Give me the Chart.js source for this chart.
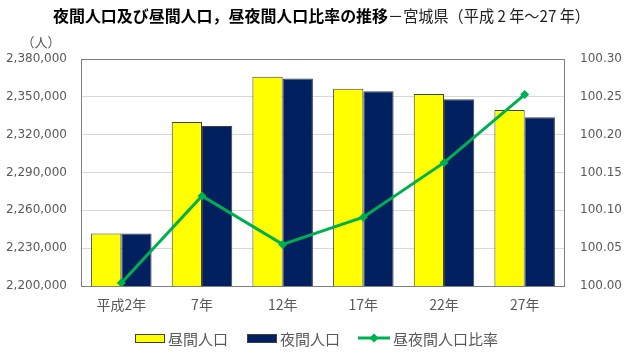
<!DOCTYPE html>
<html><head><meta charset="utf-8">
<script src="https://cdn.jsdelivr.net/npm/chart.js@4/dist/chart.umd.min.js"></script>
<style>html,body{margin:0;padding:0;background:#fff;}#wrap{width:628px;height:361px;position:relative;}</style>
</head><body><div id="wrap"><canvas id="c" width="628" height="361"></canvas></div>
<script>
const categories = ['平成2年', '7年', '12年', '17年', '22年', '27年'];
const daytimePop = [2241600, 2330000, 2366000, 2356500, 2352300, 2339600];
const nighttimePop = [2241600, 2326900, 2364500, 2354400, 2348000, 2333800];
const dayNightRatio = [100.004, 100.119, 100.055, 100.091, 100.163, 100.253];
const seriesNames = ['昼間人口', '夜間人口', '昼夜間人口比率'];
const titleBold = '夜間人口及び昼間人口，昼夜間人口比率の推移';
const titleNormal = '－宮城県（平成 2 年～27 年）';
const unitLabel = '（人）';

const JP = '"Noto Sans CJK JP", "Noto Sans", sans-serif';
const TXT = '#595959';
const YELLOW = '#FFFF00', NAVY = '#002060', GREEN = '#00B050', EDGE = '#404040';

const decor = {
  id: 'decor',
  beforeDatasetsDraw(chart) {
    const {ctx, chartArea: a} = chart;
    ctx.save();
    ctx.strokeStyle = '#7f7f7f'; ctx.lineWidth = 1;
    ctx.strokeRect(Math.round(a.left) + 0.5, Math.round(a.top) + 0.5, Math.round(a.right - a.left) - 1, Math.round(a.bottom - a.top));
    ctx.restore();
  },
  afterDraw(chart) {
    const ctx = chart.ctx;
    ctx.save();
    ctx.textBaseline = 'middle';
    ctx.fillStyle = '#000';
    ctx.font = 'bold 16px ' + JP;
    const x0 = 53;
    ctx.fillText(titleBold, x0, 16, 335);
    const w = Math.min(ctx.measureText(titleBold).width, 335);
    ctx.font = '16px ' + JP;
    ctx.fillStyle = '#222';
    ctx.fillText(titleNormal, x0 + w, 16, 202);
    ctx.font = '13px ' + JP;
    ctx.fillStyle = TXT;
    ctx.textAlign = 'center';
    ctx.fillText(unitLabel, 41, 42);
    // legend
    ctx.textAlign = 'left';
    const ly = 338;
    const ds = chart.data.datasets;
    const items = [{x: 135, tx: 168}, {x: 247, tx: 280}, {x: 358, tx: 393}];
    ctx.font = '15px ' + JP;
    items.forEach((it, i) => {
      const d = ds[i];
      if (d.type === 'line') {
        ctx.strokeStyle = d.borderColor; ctx.lineWidth = 3;
        ctx.beginPath(); ctx.moveTo(it.x, ly); ctx.lineTo(it.x + 32, ly); ctx.stroke();
        ctx.fillStyle = d.borderColor; ctx.beginPath();
        const cx = it.x + 16;
        ctx.moveTo(cx, ly - 4.5); ctx.lineTo(cx + 4.5, ly); ctx.lineTo(cx, ly + 4.5); ctx.lineTo(cx - 4.5, ly); ctx.closePath(); ctx.fill();
      } else {
        ctx.fillStyle = d.backgroundColor; ctx.fillRect(it.x + 0.5, ly - 4 + 0.5, 29, 8);
        ctx.strokeStyle = EDGE; ctx.lineWidth = 1; ctx.strokeRect(it.x + 0.5, ly - 4 + 0.5, 29, 8);
      }
      ctx.fillStyle = TXT;
      ctx.fillText(d.label, it.tx, ly + 1);
    });
    ctx.restore();
  }
};

new Chart(document.getElementById('c'), {
  type: 'bar',
  data: {
    labels: categories,
    datasets: [
      {label: seriesNames[0], data: daytimePop, backgroundColor: YELLOW, borderColor: EDGE, borderWidth: 1, yAxisID: 'y', order: 1,
       categoryPercentage: 0.75, barPercentage: 1.0},
      {label: seriesNames[1], data: nighttimePop, backgroundColor: NAVY, borderColor: EDGE, borderWidth: 1, yAxisID: 'y', order: 1,
       categoryPercentage: 0.75, barPercentage: 1.0},
      {type: 'line', label: seriesNames[2], data: dayNightRatio, borderColor: GREEN, backgroundColor: GREEN, borderWidth: 3,
       pointStyle: 'rectRot', pointRadius: 4.5, pointBorderWidth: 0, yAxisID: 'y2', order: 0, tension: 0}
    ]
  },
  options: {
    responsive: false,
    animation: false,
    layout: {padding: {top: 59, left: 0, right: 0, bottom: 0}},
    plugins: {
      title: {display: false},
      tooltip: {enabled: false},
      legend: {display: false}
    },
    scales: {
      x: {
        grid: {display: false, drawTicks: false},
        border: {display: false},
        ticks: {color: TXT, font: {family: JP, size: 14}, padding: 10, maxRotation: 0},
        afterFit(s) { s.height = 75; }
      },
      y: {
        position: 'left', min: 2200000, max: 2380000,
        grid: {color: '#d9d9d9', drawTicks: false},
        border: {display: false},
        ticks: {stepSize: 30000, color: TXT, font: {family: '"DejaVu Sans", sans-serif', size: 12}, padding: 14,
                callback: v => v.toLocaleString('en-US')},
        afterFit(s) { s.width = 81; }
      },
      y2: {
        position: 'right', min: 100.0, max: 100.3,
        grid: {display: false, drawTicks: false},
        border: {display: false},
        ticks: {stepSize: 0.05, color: TXT, font: {family: '"DejaVu Sans", sans-serif', size: 12}, padding: 15,
                callback: v => v.toFixed(2)},
        afterFit(s) { s.width = 63; }
      }
    }
  },
  plugins: [decor]
});
</script></body></html>
